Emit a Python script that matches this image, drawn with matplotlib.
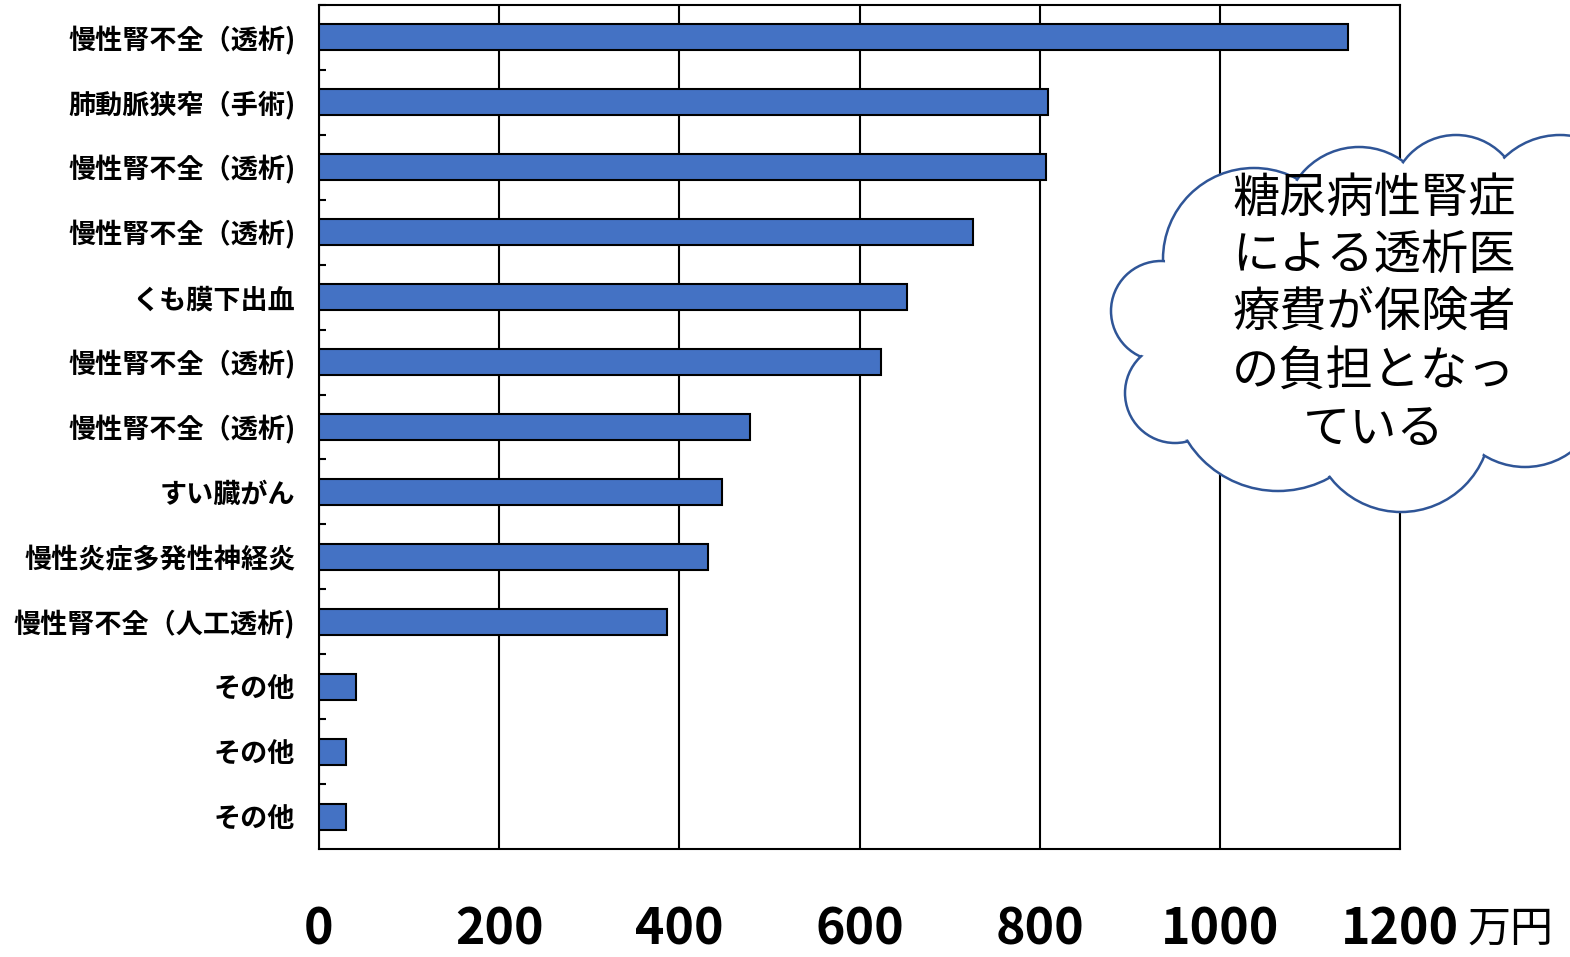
import matplotlib as mpl
mpl.use('Agg')
import matplotlib.pyplot as plt
from matplotlib.patches import Circle
import numpy as np

plt.rcParams['font.family'] = ['Noto Sans CJK JP', 'DejaVu Sans']

# 疾患名（上から順）と医療費（万円）
labels = ['慢性腎不全（透析)', '肺動脈狭窄（手術)', '慢性腎不全（透析)',
          '慢性腎不全（透析)', 'くも膜下出血', '慢性腎不全（透析)',
          '慢性腎不全（透析)', 'すい臓がん', '慢性炎症多発性神経炎',
          '慢性腎不全（人工透析)', 'その他', 'その他', 'その他']
costs = [1142, 809, 807, 726, 653, 624, 478, 447, 432, 386, 41, 30, 30]
xticks = [0, 200, 400, 600, 800, 1000, 1200]
unit = '万円'
note = '糖尿病性腎症\nによる透析医\n療費が保険者\nの負担となっ\nている'

fig = plt.figure(figsize=(15.7, 9.57), dpi=100)
ax = fig.add_axes([319/1570, 1-849/957, (1400-319)/1570, (849-5)/957])

y = np.arange(len(labels))
ax.barh(y, costs, height=0.4, color='#4472C4', edgecolor='black', linewidth=1.5, zorder=3)
ax.set_ylim(len(labels)-0.5, -0.5)
ax.set_xlim(0, 1200)

ax.set_yticks(y)
ax.set_yticklabels(labels, fontsize=19.5, fontweight='bold')
ax.set_yticks(np.arange(len(labels)) - 0.5, minor=True)
ax.tick_params(axis='y', which='major', length=0, pad=17)
ax.tick_params(axis='y', which='minor', length=5, width=1.5, direction='in')

ax.set_xticks(xticks)
ax.set_xticklabels([str(v) for v in xticks], fontsize=36, fontweight='bold')
ax.tick_params(axis='x', length=0, pad=40)
ax.grid(axis='x', color='black', linewidth=1.5, zorder=1)
for s in ax.spines.values():
    s.set_linewidth(1.5)
    s.set_color('black')

# overlay in pixel coordinates for the callout and unit label
ov = fig.add_axes([0, 0, 1, 1])
ov.set_xlim(0, 1570)
ov.set_ylim(957, 0)
ov.axis('off')

ov.text(1468, 930, unit, fontsize=31, ha='left', va='center')

lobes = [(1254, 259, 91), (1359, 222, 75), (1456, 200, 65), (1560, 215, 80),
         (1161, 311, 50), (1175, 393, 50), (1278, 384, 107),
         (1401, 422, 90), (1525, 389, 78)]
fillers = [(1370, 330, 150), (1510, 300, 60), (1610, 300, 70)]
for cx, cy, r in lobes:
    ov.add_patch(Circle((cx, cy), r, facecolor='white', edgecolor='#2F5597', linewidth=1.8, zorder=1))
for cx, cy, r in lobes:
    ov.add_patch(Circle((cx, cy), r - 2, facecolor='white', edgecolor='none', zorder=2))
for cx, cy, r in fillers:
    ov.add_patch(Circle((cx, cy), r, facecolor='white', edgecolor='none', zorder=2))

ov.text(1374, 314, note, fontsize=34, ha='center', va='center', linespacing=1.25, zorder=3)

plt.savefig('out.png')
